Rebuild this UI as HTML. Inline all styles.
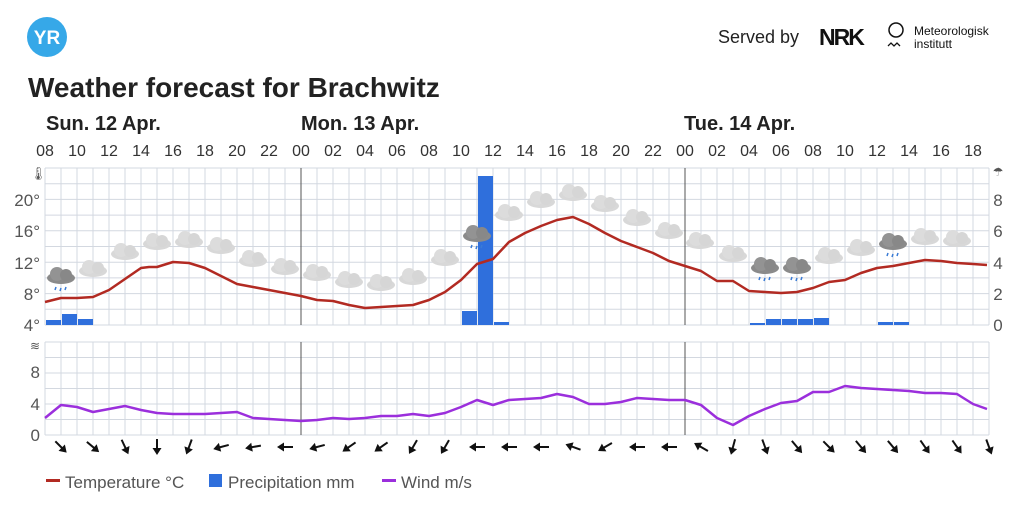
<!DOCTYPE html>
<html><head><meta charset="utf-8"><style>
body{margin:0;background:#fff;width:1024px;height:518px;overflow:hidden;font-family:"Liberation Sans",sans-serif}
</style></head><body>
<svg width="1024" height="518" xmlns="http://www.w3.org/2000/svg" font-family="Liberation Sans, sans-serif">
<defs>
<g id="c"><ellipse cx="0" cy="3" rx="14" ry="6" fill="#d8d8d8"/><circle cx="-4" cy="-1" r="7" fill="#dcdcdc"/><circle cx="5" cy="0" r="6" fill="#d6d6d6"/></g>
<g id="d"><ellipse cx="0" cy="3" rx="14" ry="6" fill="#8a8a8a"/><circle cx="-4" cy="-1" r="7" fill="#939393"/><circle cx="5" cy="0" r="6" fill="#888"/><path d="M-5 12l-1 3M0 13l-1 3M5 12l-1 3" stroke="#3a7bd5" stroke-width="1.5"/></g>
<g id="ar"><line x1="-8" y1="0" x2="3" y2="0" stroke="#111" stroke-width="2"/><path d="M8 0L1 -4.5L1 4.5Z" fill="#111"/></g>
</defs>
<circle cx="47" cy="37" r="20" fill="#36a8e8"/>
<text x="47" y="44" font-size="19" font-weight="bold" fill="#fff" text-anchor="middle">YR</text>
<text x="718" y="43" font-size="18" fill="#222">Served by</text>
<text x="819" y="45" font-size="23" font-weight="bold" fill="#111" letter-spacing="-2">NRK</text>
<circle cx="896" cy="30" r="7" fill="none" stroke="#111" stroke-width="1.5"/>
<path d="M888 46l3-3 3 3 3-3 3 3" fill="none" stroke="#111" stroke-width="1.3"/>
<text x="914" y="35" font-size="12" fill="#111">Meteorologisk</text>
<text x="914" y="48" font-size="12" fill="#111">institutt</text>
<text x="28" y="97" font-size="28" font-weight="bold" fill="#222">Weather forecast for Brachwitz</text>
<g font-size="20" font-weight="bold" fill="#222"><text x="46" y="130">Sun. 12 Apr.</text><text x="301" y="130">Mon. 13 Apr.</text><text x="684" y="130">Tue. 14 Apr.</text></g>
<g font-size="16" fill="#333" text-anchor="middle" id="hl"></g>
<g id="grid" stroke="#d3d8e0" stroke-width="1" fill="none"></g>
<line x1="301" y1="168" x2="301" y2="325" stroke="#555"/><line x1="685" y1="168" x2="685" y2="325" stroke="#555"/>
<line x1="301" y1="342" x2="301" y2="435" stroke="#555"/><line x1="685" y1="342" x2="685" y2="435" stroke="#555"/>
<g font-size="17" fill="#555" text-anchor="end"><text x="40" y="206">20°</text><text x="40" y="237">16°</text><text x="40" y="269">12°</text><text x="40" y="300">8°</text><text x="40" y="331">4°</text>
<text x="40" y="378">8</text><text x="40" y="410">4</text><text x="40" y="441">0</text></g>
<g font-size="17" fill="#555" text-anchor="middle"><text x="998" y="206">8</text><text x="998" y="237">6</text><text x="998" y="269">4</text><text x="998" y="300">2</text><text x="998" y="331">0</text></g>
<text x="30" y="178" font-size="13" fill="#555">🌡</text><text x="998" y="176" font-size="12" fill="#555" text-anchor="middle">☂</text>
<text x="30" y="350" font-size="12" fill="#555">≋</text>
<g fill="#2f6fdc">
<rect x="46" y="320" width="15" height="5"/><rect x="62" y="314" width="15" height="11"/><rect x="78" y="319" width="15" height="6"/>
<rect x="462" y="311" width="15" height="14"/><rect x="478" y="176" width="15" height="149"/><rect x="494" y="322" width="15" height="3"/>
<rect x="750" y="323" width="15" height="2"/><rect x="766" y="319" width="15" height="6"/><rect x="782" y="319" width="15" height="6"/><rect x="798" y="319" width="15" height="6"/><rect x="814" y="318" width="15" height="7"/>
<rect x="878" y="322" width="15" height="3"/><rect x="894" y="322" width="15" height="3"/></g>
<g id="icons"></g>
<polyline fill="none" stroke="#b22a22" stroke-width="2.5" stroke-linejoin="round" points="45,302 61,298 77,298 93,297 109,290 125,279 141,268 149,267 157,267 173,262 189,263 205,268 221,276 237,284 253,287 269,290 285,293 301,296 317,300 333,301 349,305 365,308 381,307 397,306 413,305 429,300 445,292 461,280 477,264 493,259 509,242 525,233 541,226 557,220 573,217 589,224 605,233 621,241 637,247 653,253 669,261 685,266 701,271 717,281 733,281 749,291 765,292 781,293 797,292 813,288 829,282 845,280 861,273 877,268 893,266 909,263 925,260 941,261 957,263 973,264 987,265"/>
<polyline fill="none" stroke="#9b2fdc" stroke-width="2.5" stroke-linejoin="round" points="45,418 61,405 77,407 93,412 109,409 125,406 141,410 157,413 173,414 189,414 205,414 221,413 237,412 253,418 269,419 285,420 301,421 317,420 333,418 349,419 365,418 381,416 397,416 413,414 429,416 445,413 461,407 477,400 493,405 509,400 525,399 541,398 557,394 573,397 589,404 605,404 621,402 637,398 653,399 669,400 685,400 701,405 717,418 733,425 749,416 765,409 781,403 797,401 813,392 829,392 845,386 861,388 877,389 893,390 909,391 925,393 941,393 957,394 973,404 987,409"/>
<g id="arrows"></g>
<rect x="46" y="479" width="14" height="3" fill="#b22a22"/><text x="65" y="488" font-size="17" fill="#555">Temperature °C</text>
<rect x="209" y="474" width="13" height="13" fill="#2f6fdc"/><text x="228" y="488" font-size="17" fill="#555">Precipitation mm</text>
<rect x="382" y="479" width="14" height="3" fill="#9b2fdc"/><text x="401" y="488" font-size="17" fill="#555">Wind m/s</text>
</svg>
<script>
var ns="http://www.w3.org/2000/svg";
function el(t,a,p,txt){var e=document.createElementNS(ns,t);for(var k in a)e.setAttribute(k,a[k]);if(txt)e.textContent=txt;document.getElementById(p).appendChild(e);}
for(var h=0;h<=59;h++){var x=45+16*h;el("line",{x1:x,y1:168,x2:x,y2:325},"grid");el("line",{x1:x,y1:342,x2:x,y2:435},"grid");}
for(var i=0;i<=10;i++){var y=168+i*15.7;el("line",{x1:45,y1:y,x2:989,y2:y},"grid");}
for(var i=0;i<=6;i++){var y=342+i*15.5;el("line",{x1:45,y1:y,x2:989,y2:y},"grid");}
for(var h=0;h<=58;h+=2){var hr=(8+h)%24;el("text",{x:45+16*h,y:156},"hl",(hr<10?"0":"")+hr);}
var ic=[[61,275,1],[93,268],[125,251],[157,241],[189,239],[221,245],[253,258],[285,266],[317,272],[349,279],[381,282],[413,276],[445,257],[477,233,1],[509,212],[541,199],[573,192],[605,203],[637,217],[669,230],[700,240],[733,253],[765,265,1],[797,265,1],[829,255],[861,247],[893,241,1],[925,236],[957,238]];
ic.forEach(function(c){el("use",{href:c[2]?"#d":"#c",x:c[0],y:c[1]},"icons");});
var ang=[45,40,65,90,110,165,170,180,165,145,145,120,120,180,180,180,200,150,180,180,210,105,70,50,45,50,50,55,55,70];
for(var i=0;i<30;i++){var x=61+32*i;el("use",{href:"#ar",transform:"translate("+x+" 447) rotate("+ang[i]+")"},"arrows");}
</script>
</body></html>
